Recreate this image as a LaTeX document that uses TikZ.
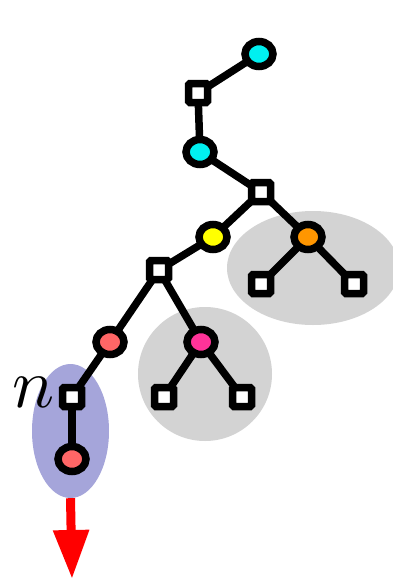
\documentclass[tikz,border=0pt]{standalone}
\usepackage{graphicx}
\usetikzlibrary{shapes.geometric,arrows.meta}
\pgfdeclarelayer{back}
\pgfdeclarelayer{edges}
\pgfsetlayers{back,edges,main}
\definecolor{cyanfill}{RGB}{0,240,240}
\definecolor{yellowfill}{RGB}{255,255,0}
\definecolor{orangefill}{RGB}{255,150,0}
\definecolor{salmonfill}{RGB}{255,102,102}
\definecolor{pinkfill}{RGB}{255,51,153}
\definecolor{grayblob}{RGB}{211,211,211}
\definecolor{blueblob}{RGB}{165,165,218}
\definecolor{arrowred}{RGB}{255,0,0}
\tikzset{
  dot/.style={ellipse,draw=black,line width=7.5pt,minimum width=28pt,minimum height=25pt,inner sep=0pt,fill=#1},
  sq/.style={rectangle,draw=black,fill=white,line width=7.5pt,minimum size=19pt,inner sep=0pt,rounded corners=1.5pt},
  edge/.style={draw=black,line width=7.5pt},
  blob/.style={ellipse,fill=#1,inner sep=0pt}
}
\begin{document}
\begin{tikzpicture}[x=1pt,y=-1pt]
\useasboundingbox (0,0) rectangle (393,579);
% nodes
\node[dot=cyanfill] (c1) at (259,54) {};
\node[sq] (s1) at (198,93) {};
\node[dot=cyanfill] (c2) at (200,152) {};
\node[sq] (s2) at (261,192) {};
\node[dot=yellowfill] (y1) at (213,237) {};
\node[dot=orangefill] (o1) at (308,237) {};
\node[sq] (s3) at (261,284) {};
\node[sq] (s4) at (354,284) {};
\node[sq] (s5) at (159,270) {};
\node[dot=salmonfill] (r1) at (110,342) {};
\node[dot=pinkfill] (m1) at (201,342) {};
\node[sq] (s6) at (164,397) {};
\node[sq] (s7) at (242,397) {};
\node[sq] (s8) at (72,397) {};
\node[dot=salmonfill] (r2) at (72,459) {};
\node[inner sep=0pt] (nlab) at (34,392) {\scalebox{7}{$n$}};
% blobs
\begin{pgfonlayer}{back}
\node[blob=grayblob,minimum width=172pt,minimum height=114pt] (g1) at (313,268) {};
\node[blob=grayblob,minimum width=134pt,minimum height=134pt] (g2) at (205,374) {};
\node[blob=blueblob,minimum width=77pt,minimum height=134pt] (b1) at (70.5,431) {};
\end{pgfonlayer}
% edges
\begin{pgfonlayer}{edges}
\draw[edge] (c1.center) -- (s1.center);
\draw[edge] (s1.center) -- (c2.center);
\draw[edge] (c2.center) -- (s2.center);
\draw[edge] (s2.center) -- (y1.center);
\draw[edge] (s2.center) -- (o1.center);
\draw[edge] (o1.center) -- (s3.center);
\draw[edge] (o1.center) -- (s4.center);
\draw[edge] (y1.center) -- (s5.center);
\draw[edge] (s5.center) -- (r1.center);
\draw[edge] (s5.center) -- (m1.center);
\draw[edge] (m1.center) -- (s6.center);
\draw[edge] (m1.center) -- (s7.center);
\draw[edge] (r1.center) -- (s8.center);
\draw[edge] (s8.center) -- (r2.center);
\end{pgfonlayer}
% output arrow
\coordinate (aend) at (72,579);
\draw[arrowred,line width=9pt,-{Triangle[length=49pt,width=34pt]}] (b1.south) -- (aend);
\end{tikzpicture}
\end{document}
